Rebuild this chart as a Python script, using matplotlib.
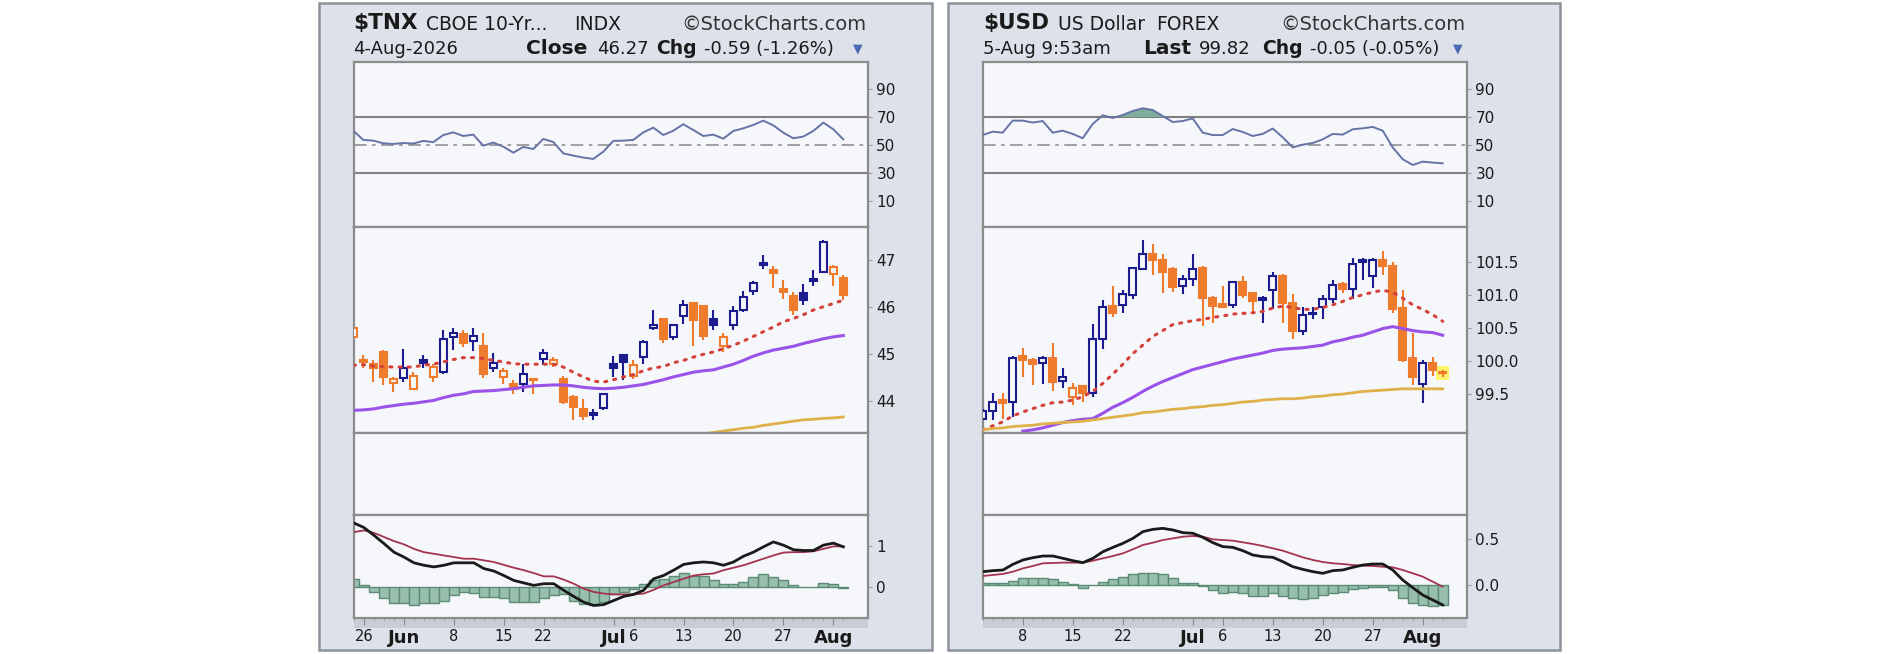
import numpy as np
import matplotlib
matplotlib.use("Agg")
import matplotlib.pyplot as plt
from matplotlib.patches import Rectangle

plt.rcParams["font.family"] = "DejaVu Sans"
W, H = 1882, 654

# ---------------- $TNX (daily, 22-May .. 4-Aug) ----------------
tnx_open = [45.37, 44.89, 44.80, 45.05, 44.39, 44.50, 44.27, 44.87, 44.52, 44.62,
            45.37, 45.44, 45.28, 45.17, 44.70, 44.52, 44.38, 44.38, 44.48, 44.91,
            44.80, 44.48, 44.09, 43.84, 43.76, 43.87, 44.79, 44.98, 44.53, 44.94,
            45.55, 45.74, 45.37, 45.81, 46.09, 46.02, 45.76, 45.17, 45.62, 45.94,
            46.35, 46.94, 46.79, 46.38, 46.23, 46.30, 46.60, 46.75, 46.70, 46.62]
tnx_high = [45.58, 44.98, 44.87, 45.09, 44.52, 45.12, 44.62, 44.98, 44.80, 45.51,
            45.55, 45.51, 45.55, 45.45, 45.03, 44.70, 44.45, 44.80, 44.48, 45.12,
            44.94, 44.53, 44.13, 44.06, 43.84, 44.18, 44.96, 45.01, 44.87, 45.30,
            45.94, 45.76, 45.65, 46.15, 46.11, 46.04, 45.94, 45.45, 46.02, 46.35,
            46.56, 47.11, 46.87, 46.57, 46.33, 46.49, 46.79, 47.43, 46.90, 46.68]
tnx_low = [45.33, 44.70, 44.41, 44.34, 44.20, 44.41, 44.25, 44.70, 44.41, 44.59,
           45.10, 45.16, 45.07, 44.50, 44.62, 44.38, 44.16, 44.20, 44.16, 44.77,
           44.73, 43.95, 43.60, 43.61, 43.61, 43.82, 44.52, 44.46, 44.48, 44.80,
           45.51, 45.23, 45.31, 45.65, 45.17, 45.31, 45.51, 45.05, 45.52, 45.90,
           46.26, 46.82, 46.40, 46.18, 45.83, 46.04, 46.45, 46.72, 46.45, 46.15]
tnx_close = [45.55, 44.84, 44.70, 44.52, 44.48, 44.70, 44.55, 44.82, 44.73, 45.33,
             45.45, 45.23, 45.38, 44.59, 44.82, 44.65, 44.27, 44.59, 44.45, 45.03,
             44.89, 43.99, 43.88, 43.70, 43.72, 44.15, 44.70, 44.84, 44.77, 45.26,
             45.62, 45.33, 45.62, 46.04, 45.72, 45.38, 45.62, 45.37, 45.92, 46.21,
             46.52, 46.89, 46.73, 46.33, 45.95, 46.16, 46.56, 47.39, 46.86, 46.27]
tnx_first_up = False
tnx_ema20 = [44.77, 44.78, 44.75, 44.74, 44.73, 44.73, 44.73, 44.77, 44.79, 44.84,
             44.89, 44.93, 44.93, 44.91, 44.87, 44.84, 44.80, 44.79, 44.79, 44.79,
             44.79, 44.73, 44.62, 44.52, 44.43, 44.41, 44.46, 44.52, 44.57, 44.65,
             44.71, 44.74, 44.82, 44.87, 44.94, 45.00, 45.05, 45.12, 45.19, 45.28,
             45.38, 45.48, 45.58, 45.69, 45.76, 45.84, 45.94, 46.01, 46.08, 46.15]
tnx_sma50 = [43.81, 43.82, 43.84, 43.88, 43.91, 43.94, 43.96, 43.99, 44.02, 44.08,
             44.13, 44.16, 44.21, 44.22, 44.23, 44.25, 44.27, 44.30, 44.33, 44.34,
             44.35, 44.35, 44.33, 44.30, 44.28, 44.27, 44.28, 44.30, 44.33, 44.36,
             44.41, 44.46, 44.52, 44.57, 44.62, 44.65, 44.67, 44.73, 44.79, 44.87,
             44.96, 45.03, 45.09, 45.13, 45.17, 45.23, 45.28, 45.33, 45.37, 45.40]
tnx_sma200_start = 35
tnx_sma200 = [43.31, 43.34, 43.37, 43.40, 43.43, 43.45, 43.49, 43.52, 43.55, 43.58,
              43.61, 43.62, 43.64, 43.65, 43.67]
tnx_rsi = [60.2, 53.6, 53.1, 51.2, 50.7, 51.4, 51.0, 52.9, 52.0, 57.1,
           59.0, 56.4, 57.4, 49.5, 51.7, 48.8, 44.5, 48.6, 47.1, 54.3,
           52.1, 44.0, 42.4, 41.0, 40.0, 45.2, 52.9, 53.1, 53.6, 59.0,
           62.4, 57.1, 60.2, 64.8, 60.7, 56.4, 57.4, 54.5, 60.0, 61.9,
           64.3, 67.4, 64.0, 58.8, 54.8, 56.0, 60.0, 66.0, 61.2, 54.0]
tnx_macd = [1.56, 1.45, 1.26, 1.06, 0.85, 0.73, 0.59, 0.53, 0.49, 0.53,
            0.59, 0.59, 0.59, 0.45, 0.39, 0.28, 0.16, 0.10, 0.04, 0.08,
            0.08, -0.08, -0.23, -0.37, -0.45, -0.43, -0.33, -0.23, -0.18, -0.08,
            0.20, 0.28, 0.41, 0.55, 0.59, 0.61, 0.59, 0.53, 0.61, 0.75,
            0.85, 0.98, 1.10, 1.02, 0.91, 0.89, 0.89, 1.02, 1.07, 0.98]
tnx_signal = [1.34, 1.38, 1.32, 1.22, 1.12, 1.04, 0.93, 0.85, 0.81, 0.77,
              0.73, 0.69, 0.69, 0.65, 0.61, 0.54, 0.47, 0.41, 0.34, 0.26,
              0.26, 0.18, 0.08, -0.04, -0.12, -0.16, -0.18, -0.18, -0.18, -0.16,
              -0.07, 0.04, 0.12, 0.20, 0.28, 0.31, 0.33, 0.41, 0.47, 0.53,
              0.61, 0.69, 0.77, 0.84, 0.85, 0.85, 0.87, 0.93, 0.99, 0.99]
tnx_hist = [0.20, 0.04, -0.12, -0.28, -0.39, -0.39, -0.43, -0.39, -0.39, -0.33,
            -0.20, -0.12, -0.15, -0.24, -0.24, -0.28, -0.37, -0.37, -0.37, -0.28,
            -0.20, -0.16, -0.33, -0.41, -0.45, -0.37, -0.16, -0.12, -0.04, 0.08,
            0.16, 0.20, 0.28, 0.34, 0.28, 0.26, 0.18, 0.08, 0.08, 0.12,
            0.24, 0.31, 0.24, 0.18, 0.04, 0.00, 0.00, 0.10, 0.08, -0.02]
tnx_xticks = [1, 5, 10, 15, 19, 26, 28, 33, 38, 43, 48]
tnx_xlabels = ["26", "Jun", "8", "15", "22", "Jul", "6", "13", "20", "27", "Aug"]
tnx_price_ticks = [44, 45, 46, 47]
tnx_macd_ticks = [0, 1]

# ---------------- $USD (daily, 2-Jun .. 5-Aug) ----------------
usd_open = [99.13, 99.25, 99.41, 99.38, 100.07, 100.02, 99.97, 100.04, 99.70, 99.46,
            99.62, 99.51, 100.34, 100.83, 100.85, 101.00, 101.39, 101.62, 101.53, 101.39,
            101.13, 101.24, 101.40, 100.96, 100.86, 100.85, 101.19, 101.03, 100.95, 101.08,
            101.29, 100.88, 100.46, 100.73, 100.81, 100.93, 101.17, 101.09, 101.52, 101.29,
            101.53, 101.44, 100.80, 100.04, 99.66, 99.97, 99.84]
usd_high = [99.28, 99.52, 99.51, 100.07, 100.19, 100.04, 100.07, 100.28, 99.89, 99.67,
            99.63, 100.56, 100.92, 101.13, 101.07, 101.42, 101.83, 101.77, 101.61, 101.42,
            101.30, 101.62, 101.43, 100.98, 101.14, 101.20, 101.28, 101.05, 100.98, 101.35,
            101.32, 101.02, 100.82, 100.81, 101.00, 101.22, 101.20, 101.56, 101.56, 101.56,
            101.66, 101.49, 101.08, 100.42, 100.01, 100.06, 99.87]
usd_low = [99.11, 99.11, 99.12, 99.15, 99.76, 99.64, 99.66, 99.54, 99.59, 99.33,
           99.38, 99.46, 100.18, 100.66, 100.72, 100.93, 101.37, 101.30, 101.03, 101.05,
           101.02, 101.13, 100.53, 100.57, 100.81, 100.80, 100.95, 100.75, 100.57, 100.78,
           100.57, 100.33, 100.39, 100.63, 100.63, 100.88, 101.03, 100.93, 101.23, 101.10,
           101.30, 100.72, 99.99, 99.64, 99.36, 99.77, 99.76]
usd_close = [99.25, 99.38, 99.36, 100.04, 100.02, 99.96, 100.04, 99.69, 99.76, 99.60,
             99.51, 100.34, 100.81, 100.72, 101.02, 101.40, 101.62, 101.53, 101.35, 101.12,
             101.24, 101.39, 100.96, 100.83, 100.82, 101.19, 101.00, 100.90, 100.92, 101.28,
             100.87, 100.46, 100.70, 100.71, 100.93, 101.15, 101.09, 101.47, 101.49, 101.53,
             101.43, 100.78, 100.02, 99.76, 99.97, 99.87, 99.82]
usd_first_up = True
usd_ema20 = [98.96, 99.02, 99.08, 99.17, 99.23, 99.28, 99.33, 99.37, 99.38, 99.41,
             99.46, 99.54, 99.66, 99.80, 99.95, 100.11, 100.24, 100.37, 100.46, 100.55,
             100.58, 100.61, 100.63, 100.66, 100.68, 100.71, 100.72, 100.73, 100.75, 100.80,
             100.83, 100.81, 100.78, 100.78, 100.81, 100.85, 100.90, 100.96, 101.00, 101.04,
             101.07, 101.04, 100.95, 100.85, 100.78, 100.70, 100.60]
usd_sma50_start = 4
usd_sma50 = [98.94, 98.96, 98.99, 99.03, 99.07, 99.10, 99.12, 99.13, 99.21, 99.30,
             99.37, 99.45, 99.54, 99.62, 99.69, 99.75, 99.81, 99.87, 99.91, 99.95,
             99.99, 100.03, 100.06, 100.09, 100.12, 100.16, 100.18, 100.19, 100.20, 100.22,
             100.24, 100.29, 100.32, 100.36, 100.39, 100.44, 100.49, 100.52, 100.49, 100.46,
             100.44, 100.43, 100.39]
usd_sma200 = [98.96, 98.98, 98.99, 99.01, 99.02, 99.03, 99.05, 99.06, 99.07, 99.08,
              99.09, 99.11, 99.13, 99.15, 99.17, 99.19, 99.22, 99.23, 99.25, 99.27,
              99.28, 99.30, 99.31, 99.33, 99.34, 99.36, 99.38, 99.39, 99.41, 99.42,
              99.43, 99.43, 99.44, 99.46, 99.47, 99.49, 99.50, 99.52, 99.54, 99.55,
              99.56, 99.57, 99.58, 99.58, 99.58, 99.58, 99.58]
usd_rsi = [57.1, 59.5, 58.8, 67.4, 67.4, 66.0, 67.1, 58.8, 60.2, 57.9,
           54.8, 65.0, 71.2, 69.3, 71.4, 74.3, 76.2, 75.0, 70.7, 66.4,
           67.1, 69.0, 58.8, 57.1, 57.1, 61.4, 59.3, 56.4, 57.9, 61.7,
           55.5, 48.3, 50.2, 51.4, 54.0, 57.9, 57.4, 61.2, 61.9, 62.9,
           60.2, 48.3, 39.8, 35.7, 38.1, 37.4, 36.9]
usd_macd = [0.145, 0.156, 0.163, 0.225, 0.272, 0.297, 0.315, 0.315, 0.290, 0.264,
            0.243, 0.290, 0.362, 0.409, 0.453, 0.507, 0.580, 0.605, 0.616, 0.598,
            0.569, 0.562, 0.518, 0.460, 0.417, 0.409, 0.373, 0.326, 0.308, 0.301,
            0.254, 0.199, 0.170, 0.145, 0.127, 0.156, 0.163, 0.192, 0.217, 0.228,
            0.228, 0.163, 0.054, -0.029, -0.109, -0.163, -0.217]
usd_signal = [0.098, 0.109, 0.120, 0.145, 0.181, 0.207, 0.236, 0.239, 0.243, 0.243,
              0.243, 0.264, 0.290, 0.315, 0.344, 0.388, 0.435, 0.460, 0.489, 0.507,
              0.525, 0.533, 0.525, 0.496, 0.489, 0.482, 0.464, 0.446, 0.424, 0.399,
              0.373, 0.337, 0.301, 0.272, 0.250, 0.236, 0.228, 0.217, 0.210, 0.207,
              0.199, 0.192, 0.163, 0.127, 0.091, 0.036, -0.018]
usd_hist = [0.025, 0.025, 0.025, 0.047, 0.072, 0.072, 0.072, 0.062, 0.036, 0.011,
            -0.036, 0.000, 0.036, 0.062, 0.091, 0.120, 0.134, 0.134, 0.120, 0.072,
            0.025, 0.025, -0.011, -0.054, -0.091, -0.072, -0.091, -0.120, -0.120, -0.091,
            -0.120, -0.145, -0.156, -0.145, -0.109, -0.091, -0.072, -0.047, -0.029, -0.018,
            -0.018, -0.054, -0.145, -0.199, -0.217, -0.228, -0.217]
usd_xticks = [4, 9, 14, 21, 24, 29, 34, 39, 44]
usd_xlabels = ["8", "15", "22", "Jul", "6", "13", "20", "27", "Aug"]
usd_price_ticks = [99.5, 100.0, 100.5, 101.0, 101.5]
usd_macd_ticks = [0.0, 0.5]

rsi_ticks = [10, 30, 50, 70, 90]
months = ["Jun", "Jul", "Aug"]

# colours
PLOT_BG = "#f5f7fb"
PANEL_BG = "#dde1ea"
SPINE = "#8c8c8c"
ORANGE = "#ef7b2d"
NAVY = "#1c1c8f"
TXT = "#1a1a1a"

fig = plt.figure(figsize=(W / 100, H / 100), dpi=100)
fig.patch.set_facecolor("white")


def box(x0, y0, x1, y1):
    return [x0 / W, 1 - y1 / H, (x1 - x0) / W, (y1 - y0) / H]


def style_ax(ax, xlim):
    ax.set_facecolor(PLOT_BG)
    ax.set_xlim(*xlim)
    for s in ax.spines.values():
        s.set_color(SPINE)
        s.set_linewidth(1.6)
    ax.set_xticks([])
    ax.yaxis.tick_right()
    ax.tick_params(axis="y", length=3, color="#999999", pad=3,
                   labelsize=11, labelcolor=TXT)


def candles(ax, o, h, l, c, first_up):
    o, h, l, c = map(np.asarray, (o, h, l, c))
    x = np.arange(len(c))
    up = np.concatenate([[first_up], c[1:] >= c[:-1]])
    cols = np.where(up, NAVY, ORANGE)
    ax.vlines(x, l, h, colors=cols, lw=1.5, zorder=3)
    for i in range(len(c)):
        lo, hi = min(o[i], c[i]), max(o[i], c[i])
        hollow = c[i] > o[i]
        ax.add_patch(Rectangle((x[i] - 0.36, lo), 0.72, max(hi - lo, 0.004),
                               facecolor=PLOT_BG if hollow else cols[i],
                               edgecolor=cols[i], lw=1.5, zorder=4))


def header(x0, x1, sym, name, kind, kx, date, lab, val, chg, pos):
    y1, y2 = 1 - 29.5 / H, 1 - 54 / H
    fig.text(x0 / W, y1, sym, fontsize=15.5, fontweight="bold", color=TXT)
    fig.text(pos[0] / W, y1, name, fontsize=13.5, color=TXT)
    fig.text(kx / W, y1, kind, fontsize=13.5, color=TXT)
    fig.text((x1 - 2) / W, y1, "©StockCharts.com", fontsize=14,
             color="#333333", ha="right")
    fig.text(x0 / W, y2, date, fontsize=13, color=TXT)
    fig.text(pos[1] / W, y2, lab, fontsize=14.5, fontweight="bold", color=TXT)
    fig.text(pos[2] / W, y2, val, fontsize=13, color=TXT)
    fig.text(pos[3] / W, y2, "Chg", fontsize=13.5, fontweight="bold", color=TXT)
    fig.text(pos[4] / W, y2, chg, fontsize=13, color=TXT)
    fig.text(pos[5] / W, y2 + 2 / H, "▼", fontsize=9, color="#4a6ab4", ha="center")


def chart(px0, px1, cx0, cx1, xlim, d):
    # outer frame and x-axis strip (kept behind the axes)
    fig.patches.append(Rectangle((px0 / W, 1 - 650 / H), (px1 - px0) / W, 647 / H,
                                 transform=fig.transFigure, facecolor=PANEL_BG,
                                 edgecolor="#8d929b", lw=1.8, zorder=-10))
    fig.patches.append(Rectangle((cx0 / W, 1 - 628 / H), (cx1 - cx0) / W, 10 / H,
                                 transform=fig.transFigure, facecolor="#c9cdd6",
                                 edgecolor="none", zorder=-9))
    n = len(d["close"])
    x = np.arange(n)

    # RSI
    ax = fig.add_axes(box(cx0, 61.7, cx1, 226.7))
    style_ax(ax, xlim)
    rsi = np.asarray(d["rsi"])
    ax.axhline(70, color="#808080", lw=1.5, zorder=1)
    ax.axhline(30, color="#808080", lw=1.5, zorder=1)
    ax.axhline(50, color="#999999", lw=1.3, ls=(0, (7, 3, 2, 3)), zorder=1)
    ax.fill_between(x, rsi, 70, where=rsi > 70, interpolate=True,
                    color="#7eae9b", lw=0, zorder=2)
    ax.plot(x, rsi, color="#6673a6", lw=1.4, zorder=3)
    ax.set_ylim(-8.4, 109.5)
    ax.set_yticks(rsi_ticks)

    # price
    ax = fig.add_axes(box(cx0, 226.7, cx1, 432.5))
    style_ax(ax, xlim)
    if d.get("highlight"):
        ax.add_patch(Rectangle((n - 1 - 0.65, d["close"][-1] - 0.1), 1.3, 0.2,
                               facecolor="#fff36b", edgecolor="none", zorder=2))
    candles(ax, d["open"], d["high"], d["low"], d["close"], d["first_up"])
    ax.plot(x, d["ema20"], color="#d4413a", lw=2.2, ls=(0, (0.7, 2.3)),
            dash_capstyle="round", zorder=5)
    s50 = d["sma50_start"] + np.arange(len(d["sma50"]))
    ax.plot(s50, d["sma50"], color="#9a52e8", lw=2.2, zorder=5)
    s200 = d["sma200_start"] + np.arange(len(d["sma200"]))
    ax.plot(s200, d["sma200"], color="#e0b04a", lw=2.0, zorder=5)
    ax.set_ylim(*d["price_lim"])
    ax.set_yticks(d["price_ticks"])
    ax.set_yticklabels(d["price_fmt"].format(v) for v in d["price_ticks"])

    # empty panel
    ax = fig.add_axes(box(cx0, 432.5, cx1, 515))
    style_ax(ax, xlim)
    ax.set_yticks([])

    # MACD
    ax = fig.add_axes(box(cx0, 515, cx1, 618))
    style_ax(ax, xlim)
    ax.bar(x, d["hist"], width=1.0, color="#98bfae", edgecolor="#5b8b75",
           lw=1.0, zorder=2)
    ax.plot(x, d["signal"], color="#a33350", lw=1.3, zorder=3)
    ax.plot(x, d["macd"], color="#1a1a1a", lw=2.0, zorder=4)
    ax.set_ylim(*d["macd_lim"])
    ax.set_yticks(d["macd_ticks"])
    ax.set_yticklabels(d["macd_fmt"].format(v) for v in d["macd_ticks"])
    ax.set_xticks(x, minor=True)
    ax.set_xticks(d["xticks"])
    ax.set_xticklabels(d["xlabels"])
    ax.tick_params(axis="x", which="major", length=5, color="#8a8a8a",
                   pad=3, labelsize=10.5, labelcolor=TXT)
    ax.tick_params(axis="x", which="minor", length=2.5, color="#9a9a9a")
    for t in ax.get_xticklabels():
        if t.get_text() in months:
            t.set_fontweight("bold")
            t.set_fontsize(13)


tnx = dict(open=tnx_open, high=tnx_high, low=tnx_low, close=tnx_close,
           first_up=tnx_first_up, ema20=tnx_ema20, sma50=tnx_sma50, sma50_start=0,
           sma200=tnx_sma200, sma200_start=tnx_sma200_start, rsi=tnx_rsi,
           macd=tnx_macd, signal=tnx_signal, hist=tnx_hist,
           price_lim=(43.34, 47.71), price_ticks=tnx_price_ticks, price_fmt="{:.0f}",
           macd_lim=(-0.756, 1.756), macd_ticks=tnx_macd_ticks, macd_fmt="{:.0f}",
           xticks=tnx_xticks, xlabels=tnx_xlabels)
usd = dict(open=usd_open, high=usd_high, low=usd_low, close=usd_close,
           first_up=usd_first_up, ema20=usd_ema20, sma50=usd_sma50,
           sma50_start=usd_sma50_start, sma200=usd_sma200, sma200_start=0,
           rsi=usd_rsi, macd=usd_macd, signal=usd_signal, hist=usd_hist,
           price_lim=(98.92, 102.03), price_ticks=usd_price_ticks, price_fmt="{:.1f}",
           macd_lim=(-0.359, 0.761), macd_ticks=usd_macd_ticks, macd_fmt="{:.1f}",
           xticks=usd_xticks, xlabels=usd_xlabels, highlight=True)

chart(319, 932, 354, 868, (0.07, 51.47), tnx)
chart(948, 1560, 983, 1467, (0.03, 48.43), usd)

header(353, 868, "$TNX", "CBOE 10-Yr...", "INDX", 574, "4-Aug-2026", "Close",
       "46.27", "-0.59 (-1.26%)", [426, 526, 597, 656, 704, 858])
header(983, 1467, "$USD", "US Dollar", "FOREX", 1156, "5-Aug 9:53am", "Last",
       "99.82", "-0.05 (-0.05%)", [1058, 1143, 1199, 1262, 1310, 1458])

fig.savefig("out.png", dpi=100, facecolor=fig.get_facecolor())
